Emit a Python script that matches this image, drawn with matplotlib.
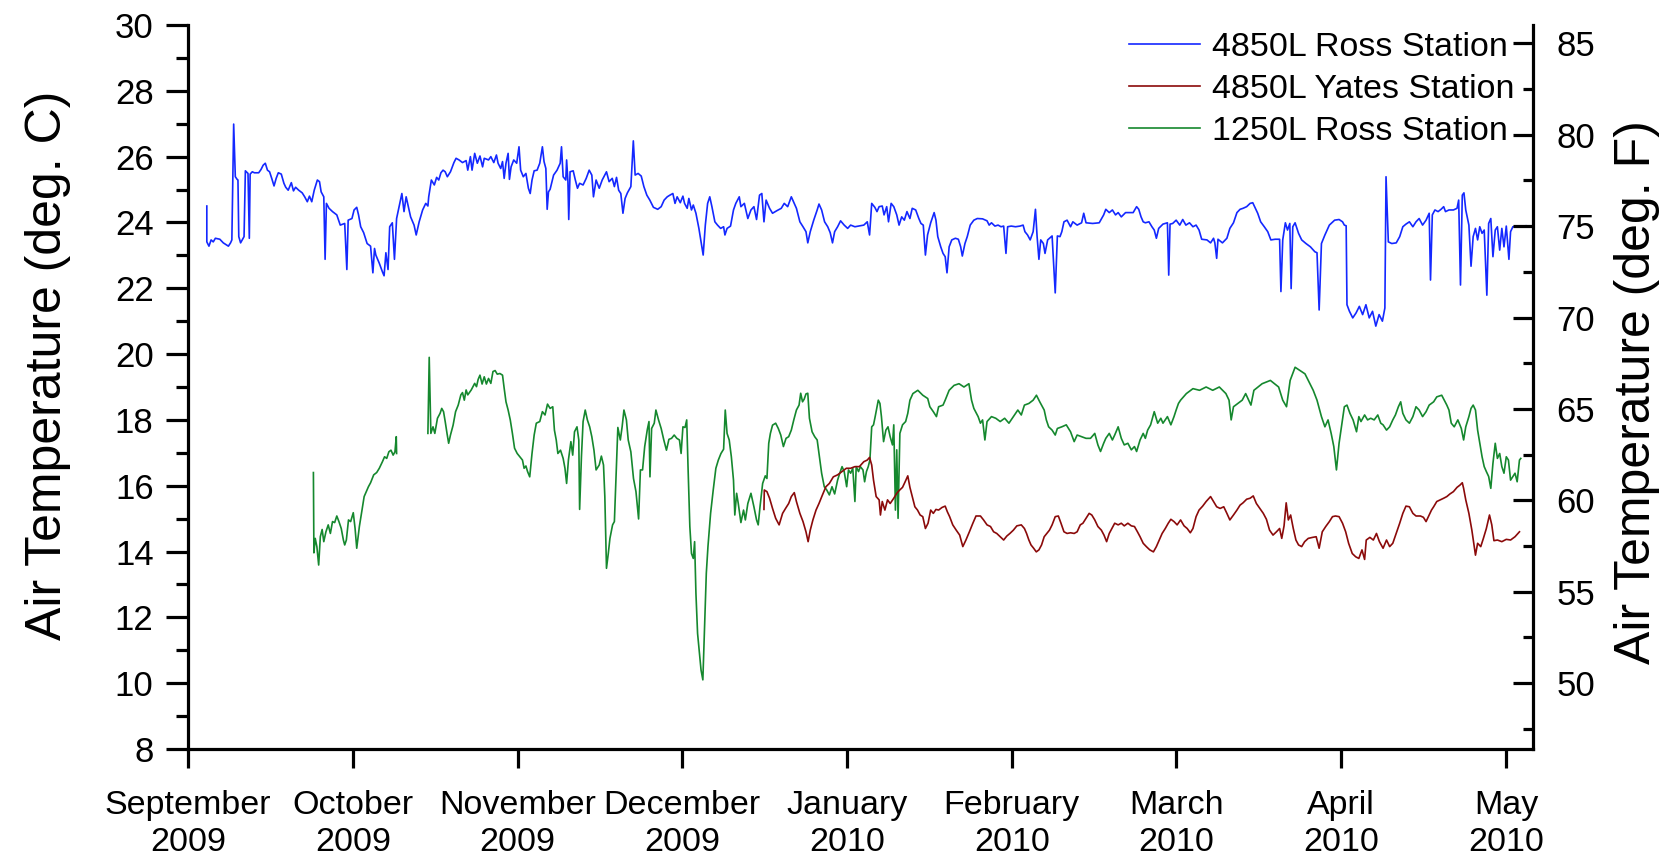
import matplotlib
matplotlib.use('Agg')
import matplotlib.pyplot as plt
import numpy as np
from matplotlib.ticker import MultipleLocator
from matplotlib.lines import Line2D

plt.rcParams['font.family'] = ['Liberation Sans', 'DejaVu Sans']

# x values are months since 1 September 2009 (axis ticks are evenly spaced months)
month_labels = ['September\n2009', 'October\n2009', 'November\n2009', 'December\n2009',
                'January\n2010', 'February\n2010', 'March\n2010', 'April\n2010', 'May\n2010']

# 4850L Ross Station (deg C)
ross4850 = [(0.114,24.50),(0.114,23.41),(0.127,23.28),(0.140,23.47),(0.153,23.41),(0.166,23.52),(0.193,23.49),(0.214,23.38),(0.245,23.28),(0.258,23.38),(0.266,23.47),(0.277,26.99),(0.287,25.39),(0.298,25.31),(0.303,25.29),(0.308,23.57),(0.319,23.38),(0.329,23.47),(0.340,23.57),(0.348,25.57),(0.364,25.49),(0.372,23.52),(0.377,25.47),(0.390,25.54),(0.403,25.51),(0.429,25.51),(0.443,25.61),(0.456,25.74),(0.469,25.80),(0.482,25.59),(0.495,25.54),(0.508,25.34),(0.522,25.11),(0.535,25.34),(0.548,25.51),(0.566,25.47),(0.582,25.19),(0.593,25.07),(0.608,24.98),(0.627,25.21),(0.640,24.96),(0.653,25.07),(0.672,24.98),(0.693,24.90),(0.708,24.78),(0.724,24.63),(0.737,24.80),(0.751,24.63),(0.766,24.98),(0.785,25.29),(0.798,25.24),(0.808,24.93),(0.824,24.78),(0.832,22.88),(0.840,24.58),(0.856,24.43),(0.877,24.33),(0.903,24.23),(0.924,23.92),(0.951,23.97),(0.964,22.57),(0.972,24.07),(0.995,24.12),(1.008,24.38),(1.024,24.46),(1.035,24.23),(1.048,23.87),(1.066,23.69),(1.087,23.36),(1.108,23.28),(1.122,22.47),(1.132,23.21),(1.140,23.01),(1.161,22.76),(1.180,22.50),(1.190,22.38),(1.201,23.08),(1.214,22.57),(1.224,23.87),(1.240,23.99),(1.253,22.88),(1.266,24.12),(1.285,24.58),(1.298,24.88),(1.311,24.33),(1.324,24.78),(1.337,24.48),(1.351,24.17),(1.372,23.92),(1.385,23.62),(1.403,24.02),(1.424,24.38),(1.443,24.58),(1.456,24.50),(1.461,24.78),(1.477,25.29),(1.495,25.14),(1.509,25.37),(1.522,25.29),(1.535,25.51),(1.548,25.59),(1.561,25.54),(1.574,25.39),(1.593,25.54),(1.614,25.82),(1.627,25.95),(1.645,25.90),(1.666,25.82),(1.688,25.88),(1.698,25.59),(1.714,26.00),(1.724,25.59),(1.740,26.10),(1.756,25.80),(1.772,26.02),(1.788,25.69),(1.798,25.95),(1.824,25.90),(1.838,26.00),(1.856,25.82),(1.872,26.05),(1.882,25.80),(1.898,25.64),(1.909,25.85),(1.919,25.34),(1.930,25.80),(1.943,26.10),(1.951,25.31),(1.961,25.69),(1.977,25.90),(1.995,25.80),(2.009,26.30),(2.019,25.59),(2.035,25.39),(2.051,25.49),(2.066,25.04),(2.077,24.88),(2.088,25.29),(2.101,25.57),(2.119,25.59),(2.135,25.80),(2.151,26.30),(2.161,25.85),(2.172,25.64),(2.180,24.40),(2.188,24.93),(2.198,25.01),(2.219,25.44),(2.240,25.59),(2.259,25.80),(2.267,26.30),(2.277,25.39),(2.293,25.29),(2.298,25.90),(2.306,25.24),(2.311,24.09),(2.319,25.54),(2.338,25.57),(2.351,25.29),(2.364,25.04),(2.377,25.19),(2.398,25.14),(2.417,25.34),(2.435,25.59),(2.451,25.44),(2.461,24.78),(2.477,25.29),(2.496,25.04),(2.514,25.29),(2.530,25.44),(2.540,25.54),(2.556,25.24),(2.575,25.34),(2.588,25.09),(2.601,25.37),(2.614,24.98),(2.627,24.88),(2.640,24.28),(2.653,24.73),(2.667,24.90),(2.688,25.09),(2.703,26.48),(2.714,25.44),(2.732,25.49),(2.751,25.41),(2.767,25.09),(2.785,24.83),(2.803,24.68),(2.825,24.46),(2.851,24.40),(2.872,24.48),(2.890,24.68),(2.909,24.78),(2.925,24.83),(2.943,24.88),(2.956,24.58),(2.969,24.78),(2.988,24.60),(3.004,24.80),(3.014,24.58),(3.030,24.43),(3.040,24.73),(3.056,24.38),(3.067,24.53),(3.083,24.28),(3.101,23.82),(3.114,23.41),(3.127,23.01),(3.140,23.92),(3.154,24.58),(3.167,24.78),(3.180,24.48),(3.198,24.02),(3.214,23.92),(3.233,23.82),(3.251,23.87),(3.259,23.62),(3.272,23.82),(3.293,23.89),(3.311,24.38),(3.325,24.58),(3.346,24.78),(3.356,24.48),(3.377,24.58),(3.398,24.12),(3.417,24.38),(3.435,24.48),(3.451,24.09),(3.469,24.83),(3.483,24.88),(3.496,24.02),(3.509,24.68),(3.530,24.43),(3.548,24.28),(3.575,24.36),(3.601,24.43),(3.619,24.58),(3.640,24.48),(3.662,24.78),(3.680,24.58),(3.693,24.43),(3.714,24.02),(3.733,23.87),(3.751,23.72),(3.762,23.38),(3.777,23.72),(3.798,24.07),(3.819,24.38),(3.830,24.56),(3.846,24.38),(3.864,24.02),(3.883,23.87),(3.898,23.69),(3.912,23.38),(3.925,23.72),(3.943,23.87),(3.961,24.05),(3.983,23.92),(4.004,23.82),(4.022,23.92),(4.048,23.87),
(4.102,23.92),(4.123,24.02),(4.137,23.62),(4.150,24.58),(4.169,24.46),(4.182,24.33),(4.195,24.48),(4.214,24.50),(4.225,24.23),(4.241,24.48),(4.252,24.02),(4.268,24.58),(4.284,24.48),(4.302,24.23),(4.316,23.92),(4.332,24.17),(4.348,24.07),(4.364,24.33),(4.382,24.12),(4.396,24.43),(4.417,24.38),(4.436,24.12),(4.449,23.97),(4.463,23.92),(4.476,23.01),(4.489,23.62),(4.508,23.99),(4.529,24.30),(4.540,24.07),(4.551,23.57),(4.569,23.26),(4.583,23.06),(4.596,22.96),(4.607,22.47),(4.620,23.26),(4.636,23.47),(4.658,23.52),(4.676,23.49),(4.690,23.26),(4.700,22.98),(4.716,23.36),(4.730,23.57),(4.748,23.92),(4.770,24.07),(4.791,24.12),(4.823,24.11),(4.850,24.05),(4.863,23.92),(4.877,23.99),(4.898,23.89),(4.917,23.92),(4.935,23.87),(4.951,23.89),(4.965,23.06),(4.975,23.87),(4.997,23.89),(5.023,23.87),(5.050,23.89),(5.069,23.92),(5.080,23.72),(5.096,23.62),(5.112,23.47),(5.130,23.72),(5.144,24.40),(5.154,23.57),(5.165,22.88),(5.176,23.47),(5.192,23.36),(5.202,23.06),(5.218,23.47),(5.245,23.59),(5.264,21.86),(5.277,23.59),(5.293,23.57),(5.304,23.72),(5.317,24.02),(5.336,24.07),(5.357,23.87),(5.371,24.02),(5.397,23.92),(5.424,23.99),(5.437,24.28),(5.451,23.99),(5.491,23.97),(5.531,23.99),(5.558,24.23),(5.571,24.40),(5.592,24.30),(5.611,24.38),(5.630,24.23),(5.646,24.30),(5.665,24.17),(5.691,24.30),(5.737,24.30),(5.758,24.48),(5.771,24.40),(5.785,24.17),(5.798,24.02),(5.811,23.99),(5.833,24.02),(5.851,23.87),(5.865,23.77),(5.878,23.52),(5.892,23.82),(5.918,23.95),(5.945,23.99),(5.953,22.40),(5.961,23.95),(5.977,23.97),(5.998,24.07),(6.020,23.92),(6.038,24.09),(6.057,23.92),(6.079,23.99),(6.100,23.87),(6.119,23.92),(6.137,23.77),(6.153,23.49),(6.185,23.47),(6.207,23.38),(6.225,23.52),(6.233,23.38),(6.244,22.91),(6.252,23.49),(6.279,23.38),(6.306,23.52),(6.324,23.82),(6.346,23.99),(6.367,24.30),(6.386,24.40),(6.404,24.43),(6.426,24.48),(6.447,24.58),(6.463,24.60),(6.479,24.43),(6.493,24.28),(6.511,24.02),(6.533,23.87),(6.554,23.72),(6.573,23.47),(6.599,23.49),(6.626,23.49),(6.634,21.90),(6.645,23.47),(6.661,23.99),(6.674,23.77),(6.688,23.97),(6.696,21.99),(6.706,23.87),(6.720,23.99),(6.741,23.67),(6.760,23.47),(6.786,23.36),(6.813,23.26),(6.840,23.11),(6.853,23.08),(6.866,21.34),(6.880,23.36),(6.901,23.62),(6.928,23.92),(6.960,24.07),(6.987,24.09),(7.008,24.02),(7.019,23.92),(7.030,23.90),
(7.035,21.50),(7.050,21.30),(7.070,21.10),(7.090,21.25),(7.110,21.45),(7.130,21.20),(7.150,21.50),(7.170,21.10),(7.190,21.30),(7.210,20.85),(7.230,21.20),(7.250,21.00),(7.265,21.40),
(7.272,25.39),(7.286,23.41),(7.307,23.36),(7.334,23.38),(7.355,23.57),(7.374,23.87),(7.393,23.95),(7.414,24.02),(7.435,23.87),(7.454,24.02),(7.473,24.12),(7.494,23.92),(7.515,24.07),(7.534,24.28),(7.542,22.25),(7.553,24.23),(7.569,24.38),(7.588,24.33),(7.606,24.40),(7.622,24.48),(7.633,24.33),(7.654,24.38),(7.681,24.38),(7.703,24.43),(7.713,24.68),(7.724,22.10),(7.735,24.83),(7.745,24.90),(7.756,24.38),(7.775,23.92),(7.788,22.67),(7.801,23.57),(7.815,23.82),(7.828,23.47),(7.841,23.87),(7.855,23.67),(7.868,23.77),(7.884,21.79),(7.895,23.97),(7.908,24.12),(7.921,22.96),(7.935,23.77),(7.948,23.87),(7.962,23.16),(7.975,23.82),(7.988,23.26),(8.002,23.89),(8.018,22.88),(8.028,23.72),(8.042,23.87),(8.068,23.87),(8.087,23.87),(8.120,23.90)]

# 4850L Yates Station (deg C)
yates4850 = [(3.496,15.28),(3.498,15.87),(3.514,15.82),(3.530,15.62),(3.548,15.31),(3.567,15.01),(3.588,14.81),(3.609,15.16),(3.627,15.31),(3.646,15.46),(3.662,15.67),(3.680,15.79),(3.693,15.52),(3.714,15.16),(3.733,14.91),(3.751,14.60),(3.764,14.30),(3.777,14.65),(3.793,14.96),(3.812,15.26),(3.830,15.46),(3.851,15.72),(3.872,15.97),(3.893,16.07),(3.917,16.27),(3.943,16.33),(3.970,16.43),(3.996,16.53),(4.022,16.53),(4.048,16.58),
(4.075,16.58),(4.102,16.73),(4.123,16.78),(4.137,16.86),(4.150,16.63),(4.161,16.17),(4.177,15.67),(4.195,15.57),(4.203,15.11),(4.214,15.52),(4.230,15.26),(4.246,15.57),(4.262,15.46),(4.284,15.62),(4.302,15.77),(4.316,15.85),(4.337,15.95),(4.353,16.12),(4.369,16.30),(4.382,15.95),(4.396,15.67),(4.412,15.36),(4.428,15.26),(4.444,15.11),(4.460,15.06),(4.476,14.70),(4.492,14.86),(4.508,15.26),(4.524,15.16),(4.540,15.28),(4.556,15.26),(4.577,15.34),(4.596,15.38),(4.609,15.21),(4.623,15.06),(4.642,14.81),(4.663,14.65),(4.684,14.50),(4.703,14.15),(4.722,14.35),(4.743,14.60),(4.764,14.86),(4.783,15.08),(4.810,15.08),(4.829,14.96),(4.850,14.81),(4.871,14.76),(4.890,14.60),(4.909,14.55),(4.930,14.45),(4.951,14.35),(4.970,14.47),(4.989,14.55),(5.010,14.65),(5.031,14.78),(5.058,14.81),(5.077,14.70),(5.090,14.55),(5.104,14.35),(5.117,14.20),(5.133,14.10),(5.149,13.99),(5.165,14.05),(5.181,14.20),(5.197,14.45),(5.213,14.55),(5.229,14.65),(5.245,14.81),(5.264,15.06),(5.283,15.08),(5.299,14.86),(5.317,14.60),(5.336,14.55),(5.357,14.57),(5.379,14.55),(5.397,14.60),(5.416,14.81),(5.432,14.86),(5.451,15.01),(5.470,15.16),(5.486,15.11),(5.504,14.96),(5.523,14.76),(5.544,14.65),(5.560,14.50),(5.576,14.30),(5.592,14.55),(5.608,14.70),(5.625,14.86),(5.646,14.81),(5.665,14.86),(5.683,14.78),(5.705,14.86),(5.726,14.78),(5.745,14.76),(5.763,14.60),(5.779,14.45),(5.798,14.25),(5.817,14.15),(5.838,14.05),(5.860,13.99),(5.878,14.15),(5.897,14.37),(5.913,14.55),(5.932,14.70),(5.950,14.86),(5.966,14.98),(5.985,14.91),(6.004,14.81),(6.025,14.96),(6.046,14.78),(6.065,14.70),(6.084,14.57),(6.100,14.70),(6.119,15.06),(6.137,15.26),(6.159,15.38),(6.180,15.52),(6.207,15.67),(6.225,15.52),(6.244,15.36),(6.265,15.31),(6.287,15.36),(6.306,15.16),(6.324,14.96),(6.346,15.11),(6.367,15.26),(6.386,15.41),(6.404,15.48),(6.426,15.59),(6.447,15.62),(6.466,15.69),(6.485,15.46),(6.506,15.31),(6.527,15.16),(6.546,14.98),(6.565,14.65),(6.586,14.50),(6.607,14.60),(6.626,14.70),(6.639,14.40),(6.653,14.78),(6.666,15.48),(6.679,14.96),(6.693,15.11),(6.709,14.70),(6.725,14.35),(6.741,14.20),(6.760,14.15),(6.778,14.30),(6.800,14.40),(6.826,14.43),(6.848,14.45),(6.866,14.10),(6.885,14.60),(6.906,14.76),(6.928,14.91),(6.947,15.06),(6.965,15.08),(6.987,15.06),(7.008,14.86),(7.027,14.60),(7.045,14.25),(7.067,13.94),(7.088,13.84),(7.107,13.79),(7.126,14.05),(7.142,13.76),(7.152,14.35),(7.174,14.43),(7.195,14.35),(7.214,14.55),(7.232,14.30),(7.254,14.10),(7.275,14.35),(7.294,14.15),(7.313,14.25),(7.334,14.55),(7.355,14.86),(7.374,15.16),(7.393,15.38),(7.414,15.36),(7.435,15.16),(7.454,15.08),(7.481,15.08),(7.499,15.04),(7.515,14.91),(7.534,15.11),(7.548,15.26),(7.561,15.36),(7.580,15.52),(7.601,15.57),(7.622,15.62),(7.641,15.67),(7.660,15.75),(7.681,15.82),(7.703,15.95),(7.721,16.02),(7.735,16.09),(7.743,15.92),(7.756,15.57),(7.775,15.16),(7.793,14.65),(7.815,13.89),(7.828,14.25),(7.847,14.15),(7.863,14.40),(7.881,14.70),(7.900,15.11),(7.914,14.81),(7.927,14.33),(7.948,14.35),(7.975,14.30),(8.002,14.37),(8.028,14.35),(8.055,14.45),(8.082,14.60)]

# 1250L Ross Station (deg C), two recorded segments
ross1250_seg1 = [(0.761,16.40),(0.764,13.96),(0.772,14.40),(0.782,14.15),(0.793,13.59),(0.803,14.45),(0.814,14.67),(0.824,14.30),(0.837,14.60),(0.851,14.81),(0.864,14.55),(0.877,14.91),(0.890,14.88),(0.903,15.08),(0.916,14.91),(0.930,14.70),(0.943,14.35),(0.951,14.20),(0.961,14.35),(0.974,14.96),(0.987,14.91),(1.003,15.18),(1.014,14.70),(1.024,14.10),(1.040,14.76),(1.056,15.26),(1.069,15.67),(1.082,15.82),(1.095,15.97),(1.108,16.09),(1.127,16.33),(1.145,16.40),(1.161,16.53),(1.180,16.73),(1.193,16.88),(1.206,16.83),(1.219,17.03),(1.232,17.08),(1.245,16.93),(1.256,17.03),(1.264,17.49),(1.266,16.98)]

ross1250_seg2 = [(1.456,17.59),(1.464,19.90),(1.474,17.59),(1.487,17.79),(1.498,17.59),(1.514,18.05),(1.530,18.20),(1.540,18.35),(1.551,18.25),(1.561,17.95),(1.572,17.59),(1.582,17.29),(1.593,17.54),(1.609,17.84),(1.624,18.25),(1.640,18.45),(1.656,18.76),(1.666,18.83),(1.677,18.60),(1.688,18.91),(1.698,18.76),(1.719,18.91),(1.740,19.11),(1.751,19.01),(1.761,19.23),(1.772,19.36),(1.785,19.09),(1.798,19.31),(1.811,19.09),(1.824,19.26),(1.838,19.11),(1.851,19.47),(1.864,19.50),(1.877,19.39),(1.893,19.41),(1.909,19.36),(1.919,18.96),(1.930,18.55),(1.943,18.30),(1.956,18.00),(1.969,17.59),(1.982,17.14),(1.998,16.98),(2.014,16.88),(2.030,16.78),(2.040,16.53),(2.051,16.60),(2.061,16.43),(2.074,16.27),(2.088,16.98),(2.101,17.54),(2.114,17.90),(2.135,17.95),(2.151,18.25),(2.167,18.15),(2.182,18.48),(2.198,18.35),(2.214,18.40),(2.224,17.69),(2.235,17.39),(2.245,16.98),(2.261,17.08),(2.277,16.83),(2.288,16.53),(2.298,16.07),(2.309,16.78),(2.324,17.34),(2.335,16.93),(2.346,17.64),(2.361,17.79),(2.372,17.39),(2.377,15.28),(2.388,16.88),(2.398,17.95),(2.411,18.30),(2.424,18.00),(2.438,17.79),(2.451,17.49),(2.464,17.08),(2.477,16.48),(2.496,16.63),(2.509,16.90),(2.522,16.63),(2.530,15.67),(2.540,13.49),(2.551,13.94),(2.561,14.40),(2.577,14.81),(2.588,14.91),(2.598,16.27),(2.609,17.77),(2.624,17.39),(2.635,17.79),(2.646,18.30),(2.661,18.00),(2.672,17.39),(2.688,17.03),(2.704,16.22),(2.719,15.82),(2.735,14.99),(2.746,16.48),(2.759,16.48),(2.772,17.19),(2.788,17.71),(2.798,17.95),(2.804,16.27),(2.814,17.74),(2.830,17.90),(2.840,18.30),(2.856,18.00),(2.872,17.74),(2.888,17.39),(2.904,17.08),(2.919,17.41),(2.935,17.44),(2.951,17.54),(2.967,17.44),(2.983,17.39),(2.993,16.98),(3.004,17.79),(3.017,17.77),(3.027,18.00),(3.035,16.58),(3.046,14.76),(3.056,13.94),(3.067,13.79),(3.075,14.30),(3.083,12.73),(3.093,11.51),(3.104,10.91),(3.114,10.40),(3.125,10.10),(3.135,11.62),(3.146,13.34),(3.156,14.15),(3.172,15.16),(3.188,15.87),(3.204,16.53),(3.219,16.78),(3.235,16.98),(3.251,17.11),(3.261,18.30),(3.272,17.59),(3.285,17.39),(3.298,16.88),(3.311,16.17),(3.319,15.11),(3.330,15.77),(3.340,15.46),(3.356,14.88),(3.372,15.26),(3.383,14.96),(3.398,15.46),(3.417,15.77),(3.435,15.36),(3.451,14.96),(3.461,14.81),(3.472,15.36),(3.488,16.07),(3.504,16.30),(3.514,16.22),(3.525,17.29),(3.535,17.59),(3.548,17.84),(3.567,17.90),(3.583,17.74),(3.598,17.54),(3.614,17.19),(3.630,17.44),(3.646,17.49),(3.662,17.69),(3.677,18.00),(3.693,18.30),(3.709,18.45),(3.719,18.81),(3.730,18.55),(3.740,18.63),(3.751,18.79),(3.762,18.81),(3.772,18.05),(3.788,17.64),(3.804,17.49),(3.819,17.39),(3.835,16.78),(3.846,16.38),(3.862,15.97),(3.877,15.87),(3.893,15.72),(3.909,15.97),(3.925,15.75),(3.943,16.17),(3.956,16.38),(3.970,16.58),(3.983,16.43),(3.998,15.97),(4.009,16.48),(4.022,16.38),(4.035,16.53),(4.048,15.52),
(4.056,16.58),(4.070,16.43),(4.081,16.58),(4.097,16.48),(4.107,16.12),(4.118,16.43),(4.129,16.58),(4.139,16.78),(4.150,17.79),(4.161,17.85),(4.171,18.10),(4.182,18.40),(4.190,18.60),(4.200,18.50),(4.209,18.10),(4.222,17.34),(4.236,17.69),(4.249,17.79),(4.262,17.49),(4.276,17.24),(4.284,17.85),(4.294,15.26),(4.302,17.09),(4.310,15.01),(4.321,17.59),(4.337,17.85),(4.356,17.95),(4.369,18.20),(4.382,18.60),(4.400,18.80),(4.430,18.90),(4.460,18.75),(4.490,18.65),(4.503,18.40),(4.524,18.25),(4.543,18.10),(4.556,18.40),(4.583,18.45),(4.596,18.60),(4.620,18.90),(4.650,19.05),(4.680,19.10),(4.710,19.00),(4.740,19.10),(4.756,18.60),(4.770,18.35),(4.796,18.10),(4.810,17.90),(4.823,18.00),(4.837,17.39),(4.850,17.95),(4.877,18.10),(4.903,18.05),(4.930,17.95),(4.957,18.05),(4.983,17.90),(5.010,18.10),(5.037,18.30),(5.058,18.15),(5.077,18.45),(5.104,18.50),(5.130,18.60),(5.150,18.75),(5.170,18.55),(5.197,18.30),(5.210,18.00),(5.224,17.79),(5.245,17.69),(5.264,17.54),(5.277,17.74),(5.304,17.79),(5.331,17.85),(5.357,17.64),(5.379,17.34),(5.397,17.54),(5.424,17.49),(5.451,17.44),(5.478,17.44),(5.504,17.59),(5.523,17.24),(5.539,17.04),(5.558,17.29),(5.571,17.44),(5.592,17.59),(5.611,17.39),(5.625,17.54),(5.646,17.79),(5.665,17.44),(5.683,17.24),(5.705,17.29),(5.726,17.09),(5.745,17.19),(5.758,17.04),(5.779,17.39),(5.798,17.59),(5.811,17.44),(5.825,17.69),(5.843,17.85),(5.865,18.25),(5.886,17.90),(5.905,18.05),(5.918,17.90),(5.945,18.10),(5.966,17.85),(5.985,18.10),(5.998,18.30),(6.012,18.50),(6.025,18.60),(6.060,18.80),(6.100,18.95),(6.140,18.90),(6.180,19.00),(6.220,18.90),(6.260,19.00),(6.300,18.80),(6.319,18.60),(6.332,18.00),(6.346,18.40),(6.372,18.50),(6.399,18.60),(6.420,18.80),(6.452,18.45),(6.470,18.90),(6.520,19.10),(6.570,19.20),(6.620,19.00),(6.645,18.60),(6.668,18.40),(6.690,19.20),(6.720,19.60),(6.750,19.50),(6.780,19.40),(6.810,19.10),(6.830,18.90),(6.853,18.60),(6.880,18.10),(6.901,17.79),(6.920,18.00),(6.939,17.59),(6.955,17.19),(6.971,16.48),(6.987,17.29),(7.000,17.74),(7.019,18.40),(7.035,18.45),(7.053,18.20),(7.072,18.00),(7.093,17.64),(7.107,18.10),(7.120,17.95),(7.142,18.15),(7.160,18.00),(7.179,18.05),(7.200,18.00),(7.222,18.15),(7.240,17.90),(7.254,17.85),(7.275,17.69),(7.294,17.79),(7.313,18.00),(7.329,18.15),(7.347,18.40),(7.361,18.55),(7.374,18.20),(7.393,18.00),(7.414,17.90),(7.435,18.10),(7.454,18.40),(7.473,18.30),(7.494,18.10),(7.515,18.25),(7.534,18.45),(7.561,18.55),(7.580,18.70),(7.610,18.75),(7.641,18.45),(7.654,18.30),(7.668,17.90),(7.686,17.79),(7.708,18.00),(7.729,17.74),(7.743,17.39),(7.756,17.79),(7.775,18.10),(7.788,18.35),(7.801,18.45),(7.815,18.30),(7.828,17.69),(7.841,17.29),(7.855,16.88),(7.868,16.58),(7.881,16.43),(7.895,16.28),(7.908,15.92),(7.921,16.68),(7.935,17.29),(7.948,16.83),(7.962,16.98),(7.975,16.58),(7.988,16.38),(8.002,16.88),(8.015,16.78),(8.028,16.17),(8.042,16.28),(8.055,16.38),(8.068,16.12),(8.082,16.78),(8.090,16.83)]

BLUE = '#1428ff'
RED = '#8b0a0a'
GREEN = '#15882e'
LW = 1.2
AX_LW = 2.3


def split(pairs):
    a = np.array(pairs)
    return a[:, 0], a[:, 1]


fig = plt.figure(figsize=(16.67, 8.6), dpi=100)
ax = fig.add_axes([0.1128, 0.1291, 0.8068, 0.8418])

bx, by = split(ross4850)
ax.plot(bx, by, color=BLUE, lw=LW, zorder=3)
g1x, g1y = split(ross1250_seg1)
g2x, g2y = split(ross1250_seg2)
ax.plot(g1x, g1y, color=GREEN, lw=LW, zorder=2)
ax.plot(g2x, g2y, color=GREEN, lw=LW, zorder=2)
rx, ry = split(yates4850)
ax.plot(rx, ry, color=RED, lw=LW, zorder=2.5)

ax.set_xlim(0, 8.164)
ax.set_ylim(8, 30)
ax.set_xticks(range(len(month_labels)))
ax.set_xticklabels(month_labels, fontsize=24.5, linespacing=1.22)
ax.yaxis.set_major_locator(MultipleLocator(2))
ax.yaxis.set_minor_locator(MultipleLocator(1))
ax.tick_params(axis='x', which='major', direction='out', length=13.7, width=AX_LW, pad=16)
ax.tick_params(axis='y', which='major', direction='out', length=15.8, width=AX_LW, pad=9, labelsize=25)
ax.tick_params(axis='y', which='minor', direction='out', length=8.6, width=AX_LW)
for s in ['top', 'right']:
    ax.spines[s].set_visible(False)
for s in ['left', 'bottom']:
    ax.spines[s].set_linewidth(AX_LW)

ax2 = ax.twinx()
ax2.set_ylim(8 * 9 / 5 + 32, 30 * 9 / 5 + 32)
ax2.yaxis.set_major_locator(MultipleLocator(5))
ax2.yaxis.set_minor_locator(MultipleLocator(2.5))
ax2.set_yticks([50, 55, 60, 65, 70, 75, 80, 85])
ax2.tick_params(axis='y', which='major', direction='in', length=14.4, width=AX_LW, pad=17, labelsize=25)
ax2.tick_params(axis='y', which='minor', direction='in', length=7.2, width=AX_LW)
for s in ['top', 'left', 'bottom']:
    ax2.spines[s].set_visible(False)
ax2.spines['right'].set_linewidth(AX_LW)

fig.text(0.029, 0.5756, 'Air Temperature (deg. C)', rotation=90, ha='center', va='center', fontsize=36)
fig.text(0.982, 0.544, 'Air Temperature (deg. F)', rotation=90, ha='center', va='center', fontsize=36)

handles = [Line2D([], [], color=BLUE, lw=LW), Line2D([], [], color=RED, lw=LW), Line2D([], [], color=GREEN, lw=LW)]
leg = ax2.legend(handles, ['4850L Ross Station', '4850L Yates Station', '1250L Ross Station'],
                 loc='upper left', bbox_to_anchor=(0.6996, 0.990), frameon=False, fontsize=24.5,
                 handlelength=2.1, handletextpad=0.33, labelspacing=0.32, borderpad=0, borderaxespad=0)

fig.savefig('out.png', dpi=100)
